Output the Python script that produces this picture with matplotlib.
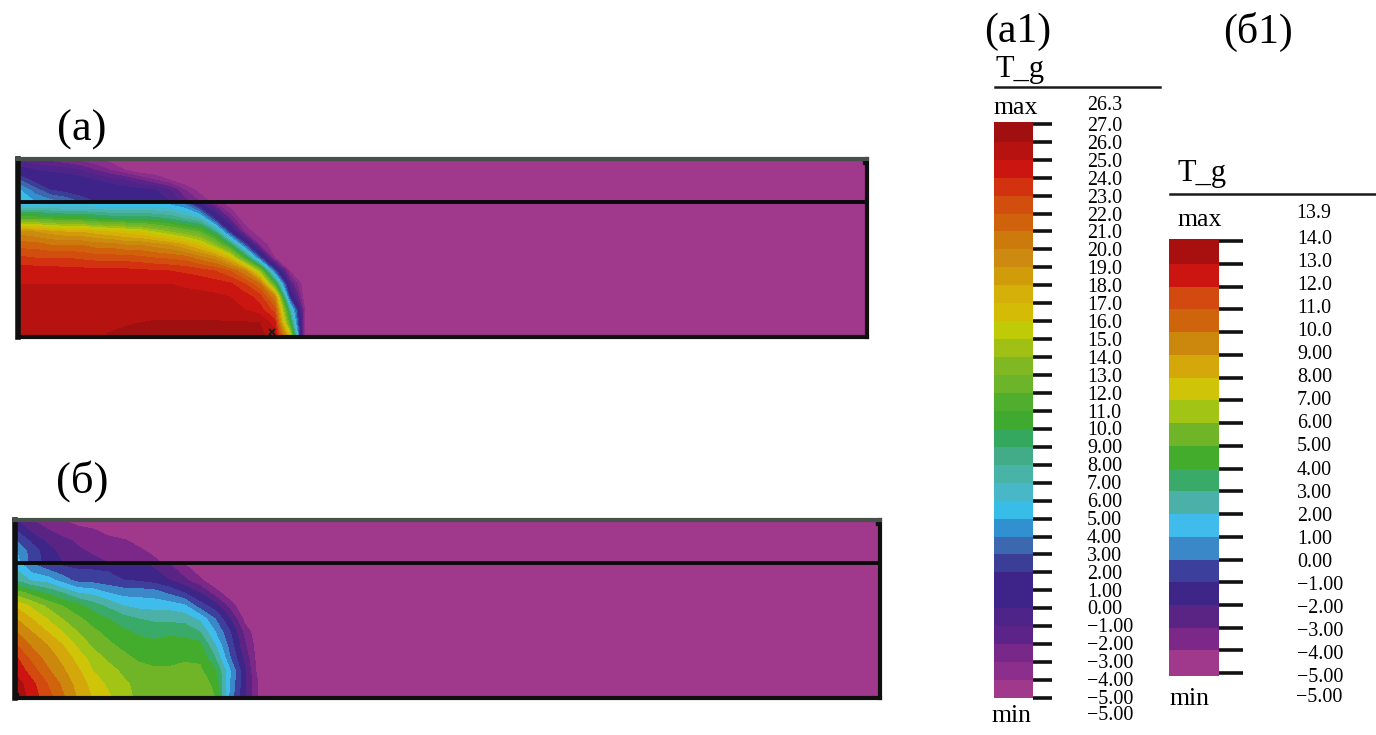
import numpy as np
import matplotlib
matplotlib.use('Agg')
import matplotlib.pyplot as plt
from matplotlib.colors import ListedColormap, BoundaryNorm
from matplotlib.lines import Line2D

W, H = 1376, 735
BG = -5.0

# colours of the bands, hottest first
colors_a = ['#a01010', '#b51210', '#cb1510', '#d2320f', '#d24e0e', '#d0620c', '#cc7a0c', '#cd8a10',
            '#d09c0a', '#d4b008', '#d4bc06', '#bfcb06', '#a0c015', '#80b824', '#6cb42a', '#50ae2e',
            '#3fa930', '#35a860', '#42ac88', '#48b4a8', '#48b8c8', '#38bce8', '#3090d0', '#3c68b0',
            '#3a3e96', '#3e2488', '#3e2488', '#4e2488', '#5c2488', '#782888', '#8c2e8c', '#a0388c']
colors_b = ['#a81010', '#cc1510', '#d24a10', '#d0640c', '#cc880c', '#d4a80a', '#d0c408', '#a2c414',
            '#70b428', '#44ac2c', '#3aaa68', '#4ab0a8', '#40bcec', '#3a88c8', '#3c409c', '#3e2688',
            '#5a2484', '#7c2888', '#a0388c']

labels_a = ['27.0', '26.0', '25.0', '24.0', '23.0', '22.0', '21.0', '20.0', '19.0', '18.0', '17.0',
            '16.0', '15.0', '14.0', '13.0', '12.0', '11.0', '10.0', '9.00', '8.00', '7.00', '6.00',
            '5.00', '4.00', '3.00', '2.00', '1.00', '0.00', '\u22121.00', '\u22122.00', '\u22123.00',
            '\u22124.00', '\u22125.00']
labels_b = ['14.0', '13.0', '12.0', '11.0', '10.0', '9.00', '8.00', '7.00', '6.00', '5.00', '4.00',
            '3.00', '2.00', '1.00', '0.00', '\u22121.00', '\u22122.00', '\u22123.00', '\u22124.00',
            '\u22125.00']

# temperature, columns every 15 px from the left wall, the rest of a row is -5
columns = [2 + 15 * k for k in range(20)] + [849]

depth_upper_a = [0, 11, 21, 31, 43]
upper_a = [
    [-1.5, -2, -2.5, -3, -3.5, -4, -4.5],
    [0.5, 0, -0.3, -0.5, -1, -2, -3, -4],
    [3, 1.5, 1, 0.8, 0.5, 0, -0.5, -1, -2, -3, -4],
    [5, 3.5, 2, 1.5, 1, 0.8, 0.8, 0.5, 0.3, 0, -1, -3, -4.5],
    [5.5, 5, 4.5, 4, 3, 2, 1.5, 1.5, 1.5, 1, 0, -1.5, -3, -4.5],
]
depth_lower_a = [44, 60, 73, 86, 99, 112, 125, 138, 151, 164, 178]
lower_a = [
    [4.5, 4.5, 4.5, 4.5, 4.5, 4.5, 4.5, 4.5, 4.5, 4.5, 4.5, 3.5, 0, -3],
    [12, 12, 11.5, 11, 11, 10.5, 10, 10, 10, 9.5, 9, 8, 7, 2, -2],
    [19.5, 19, 18.5, 18, 18, 17.5, 17, 16.5, 16, 15, 14, 13, 12, 9, 2, -3],
    [21.5, 21.5, 21, 21, 21, 20.5, 20.5, 20, 20, 19.5, 19, 18, 16.5, 14, 10, 3, -3],
    [23.2, 23, 23, 23, 22.8, 22.6, 22.5, 22.5, 22.3, 22, 21.8, 21.5, 20.5, 19.5, 17, 11, 3, -4],
    [24.6, 24.6, 24.5, 24.4, 24.4, 24.3, 24.3, 24.3, 24.2, 24.1, 24, 23.8, 23.5, 23, 22, 20, 14, 3, -4],
    [25, 25, 25, 25, 25, 25, 25, 25, 25, 25, 25, 24.8, 24.7, 24.5, 24.2, 23, 21, 11, -1],
    [25.5, 25.5, 25.5, 25.5, 25.5, 25.5, 25.5, 25.5, 25.5, 25.5, 25.5, 25.4, 25.3, 25.2, 25, 24.5, 23.5, 20, 2],
    [25.6, 25.6, 25.6, 25.6, 25.6, 25.6, 25.6, 25.6, 25.6, 25.6, 25.6, 25.6, 25.6, 25.5, 25.3, 25, 24.5, 22.5, 8, -4],
    [25.7, 25.7, 25.7, 25.7, 25.7, 25.7, 25.8, 25.9, 26, 26.1, 26.1, 26.1, 26.1, 26.1, 26.1, 26.1, 26, 24.5, 11, -4],
    [25.8, 25.8, 25.8, 25.8, 25.8, 25.9, 26.1, 26.3, 26.3, 26.3, 26.3, 26.3, 26.3, 26.3, 26.3, 26.3, 26.3, 25.5, 17],
]

depth_upper_b = [0, 11, 21, 31, 43]
upper_b = [
    [-2, -3, -3.5, -4, -4.6],
    [-1, -2.2, -2.9, -3.3, -3.5, -3.8, -4.5],
    [0, -1.2, -2.2, -2.8, -3.1, -3.3, -3.5, -3.8, -4.5],
    [1, -0.5, -1.5, -2.4, -2.9, -3.1, -3.3, -3.5, -3.7, -4.4],
    [1.5, -0.5, -1.3, -2, -2.5, -2.8, -3, -3.2, -3.3, -3.6, -4.5],
]
depth_lower_b = [44, 60, 73, 86, 99, 112, 125, 138, 151, 164, 178]
lower_b = [
    [1.5, 0, -0.8, -1.2, -1.3, -1.3, -1.3, -1.5, -1.7, -2.2, -3, -4],
    [2.8, 1.8, 1.5, 0.5, -0.4, -0.5, -0.7, -1, -1.2, -1.5, -2, -2.8, -3.8],
    [5.5, 4.6, 3.8, 3, 2, 1.7, 1, 0.6, 0.6, 0.5, -0.2, -1, -2, -3.5, -4.8],
    [7.8, 6.8, 5.8, 5, 4.4, 3.5, 2.8, 2, 1.7, 1.6, 1.6, 1.2, -0.5, -1.5, -3.5],
    [9, 8, 7, 6, 5.2, 4.6, 4, 3.4, 3, 2.8, 2.7, 2.6, 1.8, 0, -2, -4.5],
    [10, 9, 8, 7, 6, 5.2, 4.7, 4.2, 3.8, 3.6, 3.8, 3.7, 3, 1, -1, -3.5],
    [11, 9.8, 9, 8, 6.8, 5.8, 5.2, 4.7, 4.4, 4.3, 4.4, 4.4, 4.3, 2, -0.5, -3],
    [12.1, 10.7, 9.6, 8.7, 7.6, 6.5, 5.8, 5.3, 4.8, 4.6, 4.6, 4.8, 4.8, 3, 0, -2.5],
    [12.7, 11.5, 10.2, 9.2, 8.2, 7, 6.4, 5.8, 5.4, 5.2, 5.2, 5.4, 5.2, 4.2, 1, -2],
    [13.5, 12.3, 11, 9.8, 8.6, 7.6, 6.8, 6.2, 5.7, 5.6, 5.5, 5.5, 5.4, 4.8, 0.8, -2, -4.5],
    [13.9, 12.5, 11.5, 10.2, 8.9, 7.9, 7.2, 6.3, 5.8, 5.6, 5.5, 5.5, 5.4, 5, 0.5, -2, -4.5],
]


def rect(left, top, right, bottom):
    return [left / W, 1 - bottom / H, (right - left) / W, (bottom - top) / H]


def pad(rows):
    return np.array([r + [BG] * (len(columns) - len(r)) for r in rows])


def label(x, y, s, size, **kw):
    fig.text(x / W, 1 - y / H, s, fontsize=size, **kw)


def hline(x0, x1, y):
    fig.add_artist(Line2D([x0 / W, x1 / W], [1 - y / H, 1 - y / H], color='#1a1a1a', lw=1.8))


def panel(box, upper, d_upper, lower, d_lower, colors, line_y):
    ax = fig.add_axes(rect(*box))
    levels = np.arange(-5, len(colors) - 4)
    cmap = ListedColormap(colors[::-1])
    norm = BoundaryNorm(levels, cmap.N)
    ax.set_facecolor(colors[-1])
    for rows, depth in [(upper, d_upper), (lower, d_lower)]:
        ax.contourf(columns, depth, pad(rows), levels=levels, cmap=cmap, norm=norm, antialiased=False)
    ax.axhline(line_y, color='#0a0a0a', lw=2.8)
    ax.set_xlim(0, 850)
    ax.set_ylim(178, 0)
    ax.set_xticks([])
    ax.set_yticks([])
    for side, col, lw in [('left', '#0f0f0f', 4), ('bottom', '#0f0f0f', 3),
                          ('right', '#0f0f0f', 3), ('top', '#48504a', 3)]:
        ax.spines[side].set_color(col)
        ax.spines[side].set_linewidth(lw)
    return ax


def colorbar(box, lab_x, lab_top, lab_bottom, colors, labels, ymin, ymax, tick_len):
    ax = fig.add_axes(rect(*box))
    levels = np.arange(-5.0, len(colors) - 4)
    ticks = levels.copy()
    levels[0] = ymin
    levels[-1] = ymax
    ax.pcolormesh([0, 1], levels, np.arange(len(colors))[::-1].reshape(-1, 1),
                  cmap=ListedColormap(colors), shading='flat')
    ax.set_ylim(ymin, ymax)
    ax.set_xticks([])
    ax.yaxis.tick_right()
    ax.set_yticks(ticks)
    ax.set_yticklabels([])
    ax.tick_params(axis='y', length=tick_len, width=2.6, color='#111111')
    for s in ax.spines.values():
        s.set_visible(False)

    # the numbers do not sit exactly on the ticks, so they get their own scale
    lab = fig.add_axes(rect(lab_x, lab_top, lab_x + 1, lab_bottom))
    lab.set_ylim(ticks[0], ticks[-1])
    lab.set_xticks([])
    lab.yaxis.tick_right()
    lab.set_yticks(ticks)
    lab.set_yticklabels(labels[::-1], fontsize=14.4)
    lab.tick_params(axis='y', length=0, pad=0)
    lab.patch.set_visible(False)
    for s in lab.spines.values():
        s.set_visible(False)


plt.rcParams['font.family'] = ['Liberation Serif', 'DejaVu Serif']
fig = plt.figure(figsize=(W / 100, H / 100), dpi=100)

ax_a = panel((18, 159, 867, 337), upper_a, depth_upper_a, lower_a, depth_lower_a, colors_a, 43)
ax_a.plot([254], [173], marker='x', color='#1a1a1a', ms=5, mew=1.4, clip_on=False)
ax_a.plot([848], [3], marker='s', color='#111111', ms=3.5, clip_on=False)

ax_b = panel((14.5, 520, 880, 698), upper_b, depth_upper_b, lower_b, depth_lower_b, colors_b, 43.3)
ax_b.plot([848], [3], marker='s', color='#111111', ms=3.5, clip_on=False)
ax_b.plot([1], [175], marker='s', color='#111111', ms=3, clip_on=False)

colorbar((994, 122, 1033, 698), 1086, 124, 697, colors_a, labels_a, -5.0, 27.1, 13.7)
colorbar((1168.5, 239, 1218.5, 675.5), 1296, 237, 675, colors_b, labels_b, -5.1, 14.1, 17)

label(82, 130, '(а)', 32, ha='center', va='center')
label(82, 481, '(б)', 32, ha='center', va='center')
label(1018, 32, '(а1)', 30, ha='center', va='center')
label(1258, 32, '(б1)', 30, ha='center', va='center')

label(995, 77, 'T_g', 22, va='baseline')
label(1177, 181, 'T_g', 22, va='baseline')
hline(995, 1160, 87)
hline(1170, 1375, 194)

label(993, 114, 'max', 18.5, va='baseline')
label(1177, 226, 'max', 18.5, va='baseline')
label(992, 722, 'min', 18.5, va='baseline')
label(1169, 705, 'min', 18.5, va='baseline')

label(1087, 106, '26.3', 14.4, va='center')
label(1087, 716, '\u22125.00', 14.4, va='center')
label(1296, 214, '13.9', 14.4, va='center')
label(1296, 698, '\u22125.00', 14.4, va='center')

fig.savefig('out.png', dpi=100)
